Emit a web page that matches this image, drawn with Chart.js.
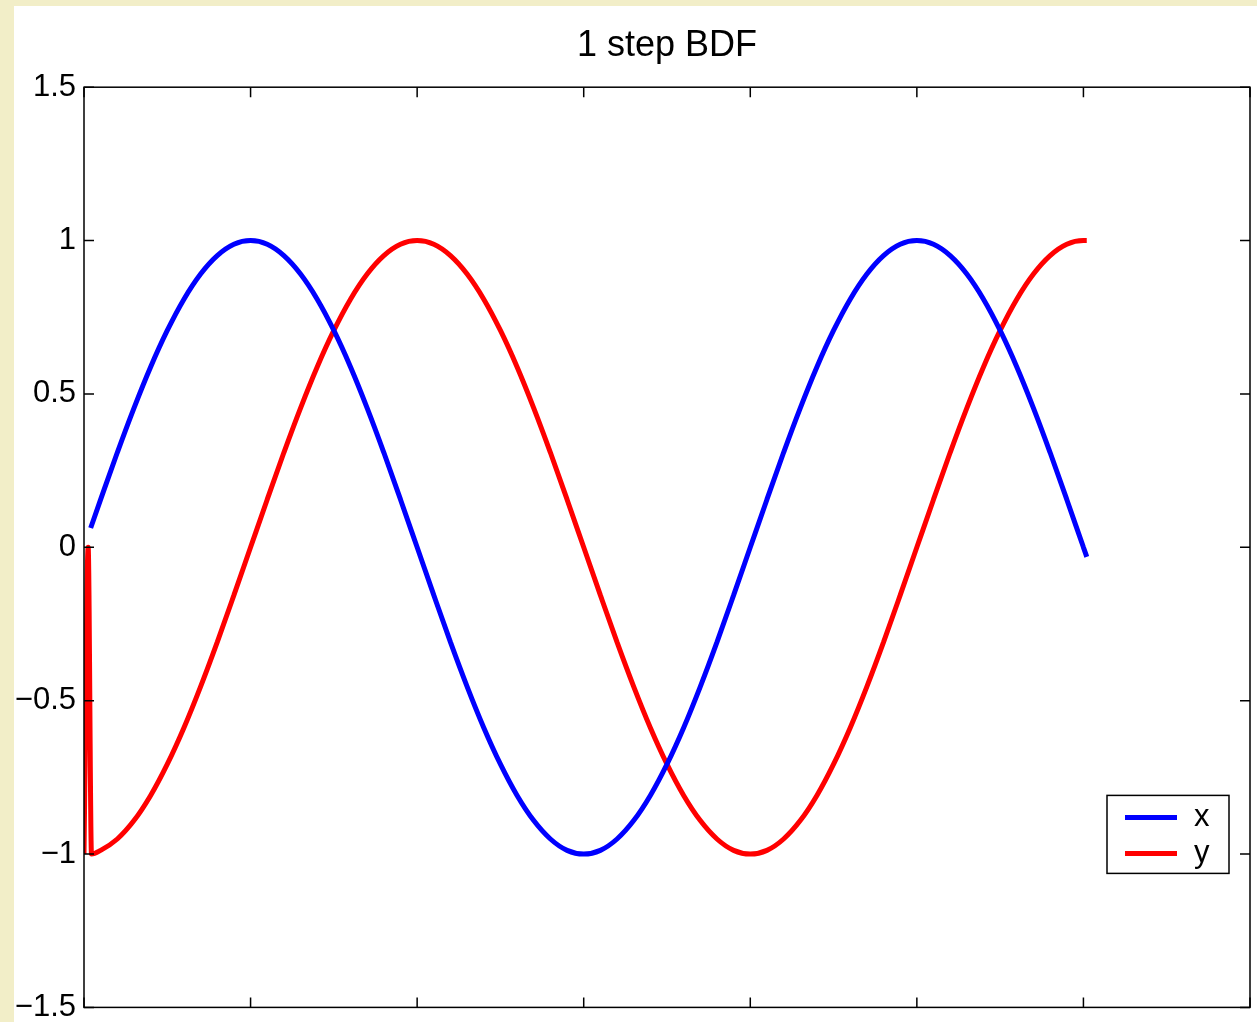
<!DOCTYPE html>
<html lang="en">
<head>
    <meta charset="UTF-8">
    <title>1 step BDF</title>
    <style>
        html, body {
            margin: 0;
            padding: 0;
            background-color: #f2eec8;
            overflow: hidden;
        }
        .figure {
            position: absolute;
            left: 14px;
            top: 6px;
            width: 1243px;
            height: 1016px;
            overflow: hidden;
            background-color: #fff;
        }
        .figure canvas {
            display: block;
        }
    </style>
</head>
<body>
    <div class="figure">
        <canvas id="bdfChart" width="1243" height="1028"></canvas>
    </div>

    <script src="https://cdn.jsdelivr.net/npm/chart.js"></script>
    <script>
        // x(t) series
        const xTime = [0.04,
            0.1, 0.2, 0.3, 0.4, 0.5, 0.6, 0.7, 0.8, 0.9, 1.0,
            1.1, 1.2, 1.3, 1.4, 1.5, 1.6, 1.7, 1.8, 1.9, 2.0,
            2.1, 2.2, 2.3, 2.4, 2.5, 2.6, 2.7, 2.8, 2.9, 3.0,
            3.1, 3.2, 3.3, 3.4, 3.5, 3.6, 3.7, 3.8, 3.9, 4.0,
            4.1, 4.2, 4.3, 4.4, 4.5, 4.6, 4.7, 4.8, 4.9, 5.0,
            5.1, 5.2, 5.3, 5.4, 5.5, 5.6, 5.7, 5.8, 5.9, 6.0,
            6.02];
        const xValues = [0.063,
            0.156, 0.309, 0.454, 0.588, 0.707, 0.809, 0.891, 0.951, 0.988, 1.000,
            0.988, 0.951, 0.891, 0.809, 0.707, 0.588, 0.454, 0.309, 0.156, 0.000,
            -0.156, -0.309, -0.454, -0.588, -0.707, -0.809, -0.891, -0.951, -0.988, -1.000,
            -0.988, -0.951, -0.891, -0.809, -0.707, -0.588, -0.454, -0.309, -0.156, 0.000,
            0.156, 0.309, 0.454, 0.588, 0.707, 0.809, 0.891, 0.951, 0.988, 1.000,
            0.988, 0.951, 0.891, 0.809, 0.707, 0.588, 0.454, 0.309, 0.156, 0.000,
            -0.031];

        // y(t) series, with the start-up spike
        const yTime = [0, 0.025, 0.045,
            0.1, 0.2, 0.3, 0.4, 0.5, 0.6, 0.7, 0.8, 0.9, 1.0,
            1.1, 1.2, 1.3, 1.4, 1.5, 1.6, 1.7, 1.8, 1.9, 2.0,
            2.1, 2.2, 2.3, 2.4, 2.5, 2.6, 2.7, 2.8, 2.9, 3.0,
            3.1, 3.2, 3.3, 3.4, 3.5, 3.6, 3.7, 3.8, 3.9, 4.0,
            4.1, 4.2, 4.3, 4.4, 4.5, 4.6, 4.7, 4.8, 4.9, 5.0,
            5.1, 5.2, 5.3, 5.4, 5.5, 5.6, 5.7, 5.8, 5.9, 6.0,
            6.02];
        const yValues = [-1.000, 0.000, -1.000,
            -0.988, -0.951, -0.891, -0.809, -0.707, -0.588, -0.454, -0.309, -0.156, 0.000,
            0.156, 0.309, 0.454, 0.588, 0.707, 0.809, 0.891, 0.951, 0.988, 1.000,
            0.988, 0.951, 0.891, 0.809, 0.707, 0.588, 0.454, 0.309, 0.156, 0.000,
            -0.156, -0.309, -0.454, -0.588, -0.707, -0.809, -0.891, -0.951, -0.988, -1.000,
            -0.988, -0.951, -0.891, -0.809, -0.707, -0.588, -0.454, -0.309, -0.156, 0.000,
            0.156, 0.309, 0.454, 0.588, 0.707, 0.809, 0.891, 0.951, 0.988, 1.000,
            1.000];

        const seriesNames = ['x', 'y'];
        const seriesColors = ['#0000ff', '#ff0000'];

        const xTicks = [0, 1, 2, 3, 4, 5, 6, 7];
        const yTicks = [-1.5, -1, -0.5, 0, 0.5, 1, 1.5];

        const fontFamily = '"Liberation Sans", Arial, Helvetica, sans-serif';

        function toPoints(ts, vs) {
            return ts.map((t, i) => ({ x: t, y: vs[i] }));
        }

        // box, inward ticks and the boxed legend, MATLAB style
        const matlabFrame = {
            id: 'matlabFrame',
            afterDraw(chart) {
                const ctx = chart.ctx;
                const a = chart.chartArea;
                const sx = chart.scales.x;
                const sy = chart.scales.y;
                const tick = 10;

                ctx.save();
                ctx.strokeStyle = '#000';
                ctx.lineWidth = 1.5;
                ctx.strokeRect(a.left, a.top, a.right - a.left, a.bottom - a.top);

                ctx.beginPath();
                sx.ticks.forEach(t => {
                    const px = sx.getPixelForValue(t.value);
                    ctx.moveTo(px, a.bottom); ctx.lineTo(px, a.bottom - tick);
                    ctx.moveTo(px, a.top); ctx.lineTo(px, a.top + tick);
                });
                sy.ticks.forEach(t => {
                    const py = sy.getPixelForValue(t.value);
                    ctx.moveTo(a.left, py); ctx.lineTo(a.left + tick, py);
                    ctx.moveTo(a.right, py); ctx.lineTo(a.right - tick, py);
                });
                ctx.stroke();

                // legend box
                const boxW = 122, boxH = 78;
                const bx = a.right - 21 - boxW;
                const by = a.bottom - 134 - boxH;
                ctx.fillStyle = '#fff';
                ctx.fillRect(bx, by, boxW, boxH);
                ctx.lineWidth = 1.5;
                ctx.strokeRect(bx, by, boxW, boxH);

                ctx.font = '31px ' + fontFamily;
                ctx.textBaseline = 'middle';
                ctx.textAlign = 'left';
                chart.data.datasets.forEach((ds, i) => {
                    const ly = by + 22 + i * 36;
                    ctx.strokeStyle = ds.borderColor;
                    ctx.lineWidth = 5;
                    ctx.beginPath();
                    ctx.moveTo(bx + 18, ly);
                    ctx.lineTo(bx + 70, ly);
                    ctx.stroke();
                    ctx.fillStyle = '#000';
                    ctx.fillText(ds.label, bx + 87, ly);
                });
                ctx.restore();
            }
        };

        const ctx = document.getElementById('bdfChart').getContext('2d');
        const bdfChart = new Chart(ctx, {
            type: 'line',
            data: {
                datasets: [{
                    label: seriesNames[0],
                    data: toPoints(xTime, xValues),
                    borderColor: seriesColors[0],
                    borderWidth: 5,
                    pointRadius: 0,
                    cubicInterpolationMode: 'monotone',
                    borderJoinStyle: 'bevel',
                    fill: false
                }, {
                    label: seriesNames[1],
                    data: toPoints(yTime, yValues),
                    borderColor: seriesColors[1],
                    borderWidth: 5,
                    pointRadius: 0,
                    cubicInterpolationMode: 'monotone',
                    borderJoinStyle: 'bevel',
                    fill: false
                }]
            },
            options: {
                responsive: false,
                animation: false,
                events: [],
                layout: {
                    autoPadding: false,
                    padding: { left: 0, right: 7, top: 0, bottom: 0 }
                },
                plugins: {
                    legend: { display: false },
                    tooltip: { enabled: false },
                    title: {
                        display: true,
                        text: '1 step BDF',
                        color: '#000',
                        fullSize: false,
                        font: { family: fontFamily, size: 36, weight: 'normal' },
                        padding: { top: 18, bottom: 20 }
                    }
                },
                scales: {
                    x: {
                        type: 'linear',
                        min: 0,
                        max: 7,
                        afterBuildTicks: scale => {
                            scale.ticks = xTicks.map(v => ({ value: v }));
                        },
                        afterFit: scale => { scale.height = 3; },
                        ticks: { display: false },
                        grid: { display: false },
                        border: { display: false }
                    },
                    y: {
                        type: 'linear',
                        min: -1.5,
                        max: 1.5,
                        afterBuildTicks: scale => {
                            scale.ticks = yTicks.map(v => ({ value: v }));
                        },
                        afterFit: scale => { scale.width = 70; },
                        ticks: {
                            color: '#000',
                            padding: 8,
                            font: { family: fontFamily, size: 31 },
                            callback: v => String(v).replace('-', '\u2212')
                        },
                        grid: { display: false, drawTicks: false },
                        border: { display: false }
                    }
                }
            },
            plugins: [matlabFrame]
        });
    </script>
</body>
</html>
